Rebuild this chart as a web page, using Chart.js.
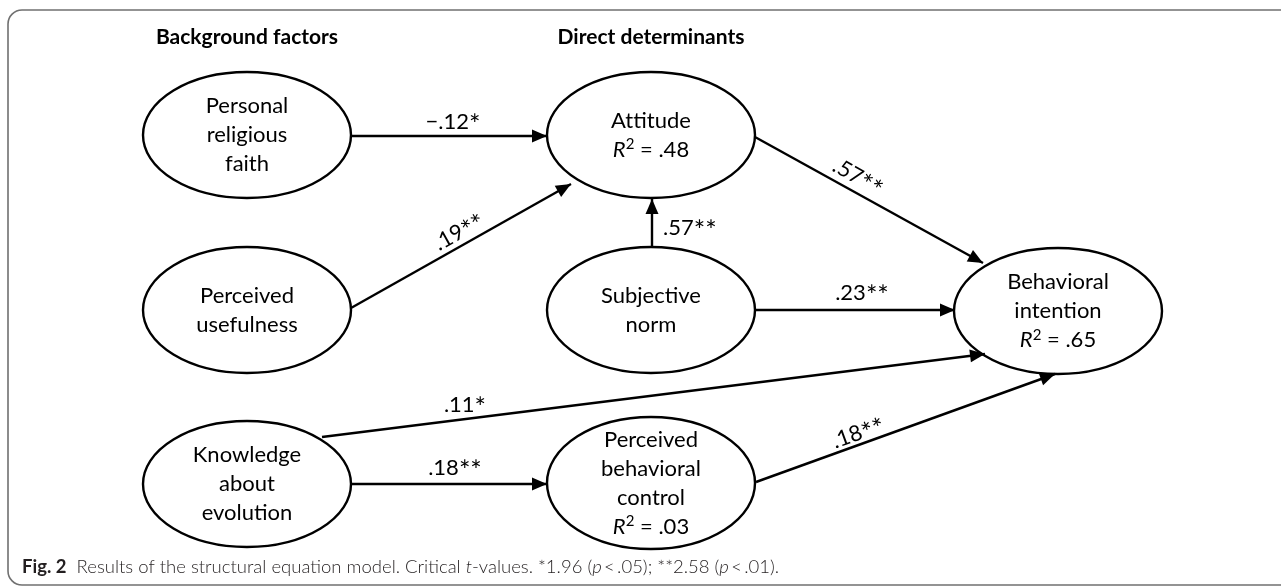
<!DOCTYPE html>
<html>
<head>
<meta charset="utf-8">
<script src="https://cdn.jsdelivr.net/npm/chart.js@4.4.1/dist/chart.umd.min.js"></script>
<style>
  html, body { margin: 0; padding: 0; background: #ffffff; }
  #wrap { width: 1281px; height: 586px; position: relative; }
</style>
</head>
<body>
<div id="wrap"><canvas id="c" width="1281" height="586"></canvas></div>
<script>
// ---------- DATA ----------
// constructs (nodes) of the structural equation model
const nodeIds    = ['PRF', 'ATT', 'PU', 'SN', 'BI', 'KAE', 'PBC'];
const nodeLabels = [
  ['Personal', 'religious', 'faith'],
  ['At\u200Ctitude'],
  ['Perceived', 'usefulness'],
  ['Subjective', 'norm'],
  ['Behavioral', 'intention'],
  ['Knowledge', 'about', 'evolution'],
  ['Perceived', 'behavioral', 'control']
];
const nodeR2     = [null, '.48', null, null, '.65', null, '.03'];
// diagram coordinates of the node centres
const nodeX      = [247, 651, 247, 651, 1058, 247, 651];
const nodeY      = [135, 135, 310, 310, 311, 484, 483];

// paths (from -> to) and standardised coefficients
const pathFrom   = ['PRF', 'PU', 'SN', 'SN', 'ATT', 'KAE', 'KAE', 'PBC'];
const pathTo     = ['ATT', 'ATT', 'ATT', 'BI', 'BI', 'BI', 'PBC', 'BI'];
const pathCoef   = ['\u2212.12', '.19', '.57', '.23', '.57', '.11', '.18', '.18'];
const pathStars  = ['*', '**', '**', '**', '**', '*', '**', '**'];
// path anchor points in diagram coordinates (start / arrow tip)
const pathX0     = [351, 351, 652, 755, 755, 322, 352, 756];
const pathY0     = [136, 308, 247, 310, 137, 437, 484, 482];
const pathX1     = [547, 571, 652, 955, 983, 985, 547, 1055];
const pathY1     = [136, 184, 199, 310, 263, 354, 484, 374];
// coefficient label anchors
const coefX      = [453, 459, 663, 862, 858, 465, 455, 858];
const coefY      = [122, 232, 228, 293, 177, 405, 468, 433];
const coefRotate = [false, true, false, false, true, false, false, true];
const coefAlign  = ['center', 'center', 'left', 'center', 'center', 'center', 'center', 'center'];

// column headers
const headerText = ['Background factors', 'Direct determinants'];
const headerX    = [247, 651];
const headerY    = [37, 37];

// ---------- STYLE ----------
const FONT = 'Lato, "Open Sans", "DejaVu Sans", sans-serif';
const NODE_RX = 104, NODE_RY = 63, PBC_RY = 66;
const LINE_H = 29;

function px(chart, x) { return chart.scales.x.getPixelForValue(x); }
function py(chart, y) { return chart.scales.y.getPixelForValue(y); }

function drawSegments(ctx, segs, x, y) {
  let cx = x;
  segs.forEach(s => {
    ctx.font = s.font;
    ctx.fillText(s.t, cx, y + (s.dy || 0));
    cx += ctx.measureText(s.t).width;
  });
  return cx;
}
function segWidth(ctx, segs) {
  let w = 0;
  segs.forEach(s => { ctx.font = s.font; w += ctx.measureText(s.t).width; });
  return w;
}

const diagramPlugin = {
  id: 'diagram',
  beforeDatasetsDraw(chart) {
    const ctx = chart.ctx;
    ctx.save();
    // frame
    ctx.strokeStyle = '#707070';
    ctx.lineWidth = 1.6;
    ctx.beginPath();
    ctx.roundRect(px(chart, 8), py(chart, 10), px(chart, 1300) - px(chart, 8), py(chart, 585) - py(chart, 10), 14);
    ctx.stroke();
    // ellipses
    nodeIds.forEach((id, i) => {
      const ry = id === 'PBC' ? PBC_RY : NODE_RY;
      const cx = px(chart, nodeX[i]), cy = py(chart, nodeY[i]);
      const rx = px(chart, nodeX[i] + NODE_RX) - cx;
      const ryp = py(chart, nodeY[i] + ry) - cy;
      ctx.beginPath();
      ctx.ellipse(cx, cy, Math.abs(rx), Math.abs(ryp), 0, 0, Math.PI * 2);
      ctx.fillStyle = '#ffffff';
      ctx.fill();
      ctx.lineWidth = 2.4;
      ctx.strokeStyle = '#000000';
      ctx.stroke();
    });
    ctx.restore();
  },
  afterDatasetsDraw(chart) {
    const ctx = chart.ctx;
    ctx.save();
    // arrow heads
    chart.data.datasets.forEach((ds, i) => {
      const meta = chart.getDatasetMeta(i);
      const p0 = meta.data[0], p1 = meta.data[1];
      const ang = Math.atan2(p1.y - p0.y, p1.x - p0.x);
      const L = 15, W = 6.5;
      ctx.beginPath();
      ctx.moveTo(p1.x, p1.y);
      ctx.lineTo(p1.x - L * Math.cos(ang) + W * Math.sin(ang), p1.y - L * Math.sin(ang) - W * Math.cos(ang));
      ctx.lineTo(p1.x - L * Math.cos(ang) - W * Math.sin(ang), p1.y - L * Math.sin(ang) + W * Math.cos(ang));
      ctx.closePath();
      ctx.fillStyle = '#000';
      ctx.fill();
    });
    // coefficient labels
    ctx.fillStyle = '#000';
    ctx.textBaseline = 'middle';
    pathCoef.forEach((t, i) => {
      const x = px(chart, coefX[i]), y = py(chart, coefY[i]);
      const segs = [
        { t: t, font: '22px ' + FONT },
        { t: pathStars[i], font: '27px ' + FONT, dy: 3 }
      ];
      ctx.save();
      ctx.translate(x, y);
      if (coefRotate[i]) {
        const a = Math.atan2(py(chart, pathY1[i]) - py(chart, pathY0[i]), px(chart, pathX1[i]) - px(chart, pathX0[i]));
        ctx.rotate(a);
      }
      ctx.textAlign = 'left';
      const w = segWidth(ctx, segs);
      const startX = coefAlign[i] === 'left' ? 0 : -w / 2;
      drawSegments(ctx, segs, startX, 0);
      ctx.restore();
    });
    // node texts
    nodeIds.forEach((id, i) => {
      const lines = nodeLabels[i].slice();
      const n = lines.length + (nodeR2[i] ? 1 : 0);
      const cx = px(chart, nodeX[i]);
      const top = py(chart, nodeY[i]) - (n - 1) * LINE_H / 2;
      ctx.textAlign = 'center';
      ctx.font = '22px ' + FONT;
      lines.forEach((l, k) => ctx.fillText(l, cx, top + k * LINE_H));
      if (nodeR2[i]) {
        const segs = [
          { t: 'R', font: 'italic 22px ' + FONT },
          { t: '2', font: '15px ' + FONT, dy: -5 },
          { t: ' = ' + nodeR2[i], font: '22px ' + FONT }
        ];
        ctx.textAlign = 'left';
        const w = segWidth(ctx, segs);
        drawSegments(ctx, segs, cx - w / 2, top + lines.length * LINE_H);
      }
    });
    // headers
    ctx.textAlign = 'center';
    ctx.font = 'bold 21px ' + FONT;
    headerText.forEach((t, i) => ctx.fillText(t, px(chart, headerX[i]), py(chart, headerY[i])));
    // caption
    ctx.textAlign = 'left';
    ctx.fillStyle = '#231f20';
    const reg = '300 18.5px ' + FONT, it = 'italic 300 18.5px ' + FONT;
    drawSegments(ctx, [
      { t: 'Fig. 2', font: 'bold 18.5px ' + FONT },
      { t: '  Results of the structural equation model. Critical ', font: reg },
      { t: 't', font: it },
      { t: '-values. *1.96 (', font: reg },
      { t: 'p', font: it },
      { t: '\u2009<\u2009.05); **2.58 (', font: reg },
      { t: 'p', font: it },
      { t: '\u2009<\u2009.01).', font: reg }
    ], px(chart, 22), py(chart, 567));
    ctx.restore();
  }
};

const datasets = pathFrom.map((f, i) => ({
  label: f + '->' + pathTo[i] + ' ' + pathCoef[i] + pathStars[i],
  data: [{ x: pathX0[i], y: pathY0[i] }, { x: pathX1[i], y: pathY1[i] }],
  showLine: true,
  borderColor: '#000000',
  borderWidth: 2.4,
  pointRadius: 0,
  pointHoverRadius: 0,
  fill: false,
  tension: 0
}));

new Chart(document.getElementById('c'), {
  type: 'scatter',
  data: { datasets },
  options: {
    responsive: false,
    animation: false,
    events: [],
    layout: { padding: 0 },
    plugins: { legend: { display: false }, tooltip: { enabled: false }, title: { display: false } },
    scales: {
      x: { type: 'linear', min: 0, max: 1281, display: false },
      y: { type: 'linear', min: 0, max: 586, reverse: true, display: false }
    }
  },
  plugins: [diagramPlugin]
});
</script>
</body>
</html>
